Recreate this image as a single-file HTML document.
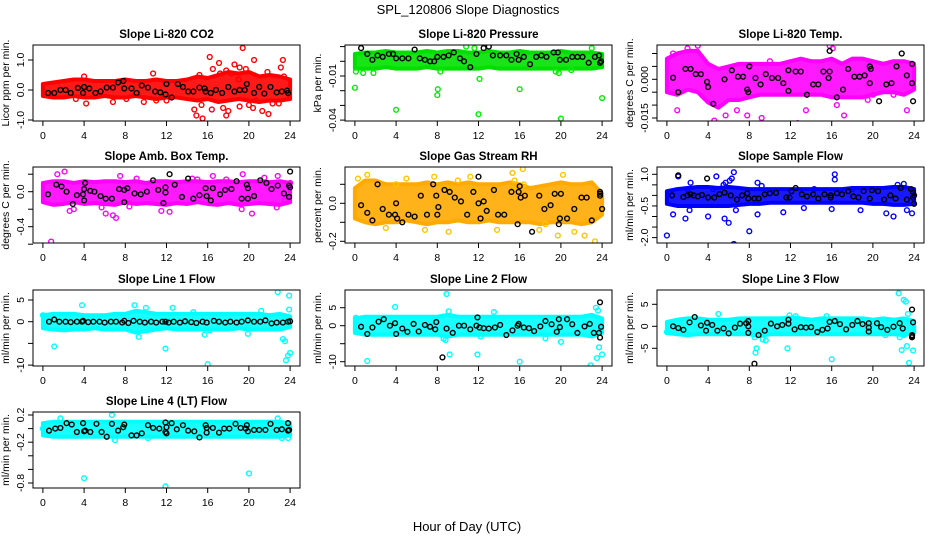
<!DOCTYPE html>
<html><head><meta charset="utf-8"><style>
html,body{margin:0;padding:0;background:#fff}
svg{display:block;font-family:"Liberation Sans",Arial,sans-serif}
</style></head><body>
<svg id="fig" width="936" height="540" viewBox="0 0 936 540" xmlns="http://www.w3.org/2000/svg">
<text x="468" y="14" text-anchor="middle" font-size="13">SPL_120806  Slope Diagnostics</text>
<text x="467" y="531" text-anchor="middle" font-size="13">Hour of Day (UTC)</text>
</svg>
<script>
const hours=[0,1,2,3,4,5,6,7,8,9,10,11,12,13,14,15,16,17,18,19,20,21,22,23,24];
const xTicks=[0,4,8,12,16,20,24];

const co2BandLo=[-0.2,-0.25,-0.25,-0.2,-0.25,-0.25,-0.2,-0.25,-0.25,-0.2,-0.25,-0.3,-0.25,-0.25,-0.3,-0.35,-0.3,-0.4,-0.35,-0.3,-0.35,-0.4,-0.35,-0.35,-0.3];
const co2BandHi=[0.2,0.25,0.3,0.35,0.35,0.3,0.3,0.3,0.35,0.3,0.3,0.35,0.3,0.3,0.35,0.45,0.4,0.5,0.6,0.55,0.6,0.45,0.5,0.45,0.35];
const co2Outliers=[[4,0.45],[4.2,-0.45],[3.2,-0.3],[6.8,-0.4],[8.1,-0.3],[9.8,-0.4],[10.7,0.55],[11,-0.35],[12,-0.35],[14.7,-0.65],[14.9,-0.85],[15.5,-0.95],[15.4,-0.5],[16.2,1.1],[16.4,-0.65],[17.1,0.9],[17.2,0.55],[17.5,-0.6],[17.8,-0.85],[18,-0.7],[18.3,0.55],[18.6,0.85],[19.1,0.75],[19.4,1.4],[19.1,-0.55],[19.7,0.7],[20,-0.5],[20.4,-0.6],[20.5,1.0],[20.7,-0.35],[21.3,-0.7],[21.8,0.6],[21.9,-0.8],[22.3,-0.45],[22.9,-0.45],[23.3,1.0],[23.1,0.75],[23.4,0.45],[23.9,-0.15],[17.8,0.65],[19,0.35],[15.2,0.5],[16.5,0.7]];
const co2Ref=[[0.5,-0.1],[1.1,-0.1],[1.7,0],[2.2,0],[2.7,-0.1],[3.4,0.07],[3.9,-0.1],[4,0.1],[4.5,0.05],[5.1,-0.1],[5.6,-0.05],[6.2,0.08],[6.8,0.08],[7.3,0.25],[7.8,0.3],[7.9,0.05],[8.6,0.05],[9.1,-0.1],[9.6,0.15],[10.2,0.08],[10.9,-0.05],[11.4,-0.08],[11.9,-0.15],[12,0.2],[12.5,-0.25],[13.1,0.2],[13.6,0.1],[14.1,-0.05],[14.6,-0.05],[15.2,0.08],[15.7,0.05],[15.8,-0.05],[16.3,-0.1],[16.8,0],[17.4,-0.1],[18,0.1],[18.6,-0.05],[19.1,0],[19.6,0],[19.8,0.2],[20.5,-0.1],[21,0.1],[21.5,-0.12],[22.1,0.1],[22.7,-0.08],[23.2,-0.05],[23.7,-0.02],[23.8,-0.1]];

const presBandLo=[-0.005,-0.005,-0.005,-0.004,-0.005,-0.005,-0.005,-0.004,-0.005,-0.005,-0.005,-0.005,-0.005,-0.004,-0.005,-0.005,-0.005,-0.005,-0.005,-0.005,-0.005,-0.005,-0.005,-0.005,-0.004];
const presBandHi=[0.005,0.006,0.006,0.007,0.006,0.006,0.006,0.007,0.006,0.007,0.007,0.006,0.006,0.007,0.006,0.006,0.007,0.006,0.006,0.006,0.007,0.006,0.006,0.006,0.005];
const presOutliers=[[0,-0.018],[0.1,-0.007],[0.8,-0.008],[1.8,-0.008],[4,-0.033],[8,-0.023],[8.05,-0.019],[8.3,-0.007],[12,-0.036],[12.1,-0.012],[16,-0.019],[20,-0.039],[19.8,-0.008],[24,-0.025],[10.8,0.01],[11.6,0.009],[23,0.009],[19.5,-0.007],[21,-0.006]];
const presRef=[[0.6,0.009],[1.2,0.005],[1.7,0.001],[2.2,0.004],[2.7,0.003],[3.3,0.005],[3.7,0.005],[4,0.002],[4.6,0.002],[5.2,0.002],[5.8,0.008],[6.3,0.002],[6.8,0.001],[7.3,0],[7.7,0],[8,0.003],[8.6,0.003],[9.1,0.004],[9.6,0.006],[10.2,0.002],[10.6,0],[11.2,-0.004],[11.8,0.005],[12.5,0.009],[13,0.01],[13.4,0.004],[14.1,0.004],[14.7,0.004],[15.2,0.001],[15.7,0.005],[15.9,0.001],[16.4,0.003],[17,-0.002],[17.6,0.003],[18.1,0.004],[18.6,0.003],[19.3,0.006],[19.7,0.006],[19.9,0.001],[20.5,0.001],[21.1,0.003],[21.6,0.003],[22.1,0.003],[22.7,-0.001],[23.3,0.003],[23.7,0.004],[23.8,-0.001],[23.9,0]];

const tempBandLo=[-0.005,-0.006,-0.004,-0.005,-0.009,-0.011,-0.008,-0.008,-0.007,-0.006,-0.006,-0.006,-0.006,-0.006,-0.006,-0.006,-0.007,-0.007,-0.007,-0.007,-0.006,-0.005,-0.005,-0.006,-0.004];
const tempBandHi=[0.008,0.01,0.011,0.011,0.006,0.004,0.005,0.006,0.006,0.006,0.006,0.006,0.007,0.008,0.007,0.007,0.008,0.006,0.008,0.008,0.007,0.006,0.007,0.007,0.006];
const tempOutliers=[[0.6,0.01],[1,-0.012],[2.5,0.015],[2,0.012],[4.1,-0.019],[4.6,-0.016],[5,-0.018],[5.7,-0.014],[6.8,-0.012],[7.8,-0.014],[9.2,-0.015],[12.7,-0.017],[13.5,-0.012],[15.8,0.013],[16.1,0.012],[17.2,-0.014],[19.5,-0.008],[20,-0.006],[22,-0.006],[23.3,-0.012],[16.5,-0.01],[10,0.007],[3,0.013]];
const tempRef=[[0.6,0.0006],[1.1,-0.005],[1.8,0.004],[2.3,0.004],[2.8,0.002],[3.3,0.002],[3.9,-0.001],[4,-0.003],[4.5,-0.0095],[5.1,-0.0185],[5.6,0],[6.3,0.0035],[6.9,0.001],[7.4,0.001],[7.8,-0.004],[7.9,-0.005],[8,0.005],[8.6,0.0005],[9.1,-0.002],[9.6,0.002],[10.2,0.0005],[10.8,0.0005],[11.3,-0.0015],[11.8,-0.0045],[11.8,0.0035],[12.5,0.003],[13,0.003],[13.6,-0.006],[14.2,-0.002],[14.7,-0.002],[15.2,0.003],[15.8,0.011],[15.7,0.0005],[15.8,0.003],[16.5,-0.007],[17.1,-0.004],[17.6,0.004],[18.2,0.001],[18.7,0.001],[19.2,0.0015],[19.7,0.005],[19.8,0.004],[19.7,-0.0015],[20.6,-0.0085],[21.3,-0.002],[21.8,-0.0015],[22.3,0.005],[22.8,0.01],[23.3,0.0015],[23.8,0.006],[23.8,-0.0015],[23.9,-0.0085]];

const ambBandLo=[-0.12,-0.15,-0.14,-0.12,-0.14,-0.13,-0.14,-0.15,-0.12,-0.14,-0.13,-0.14,-0.15,-0.13,-0.14,-0.12,-0.14,-0.15,-0.13,-0.15,-0.14,-0.13,-0.14,-0.15,-0.12];
const ambBandHi=[0.1,0.12,0.12,0.1,0.12,0.11,0.12,0.12,0.11,0.12,0.1,0.12,0.12,0.11,0.12,0.12,0.11,0.12,0.12,0.11,0.12,0.12,0.11,0.12,0.1];
const ambOutliers=[[0.8,-0.57],[1.4,0.2],[2.1,0.23],[2.6,-0.22],[3,-0.2],[5.7,-0.18],[6.1,-0.25],[6.8,-0.27],[7.1,-0.3],[7.5,0.18],[8.4,-0.17],[9.1,0.15],[11.5,-0.22],[12.3,-0.23],[14.5,0.15],[15,0.14],[16.5,0.18],[17.8,0.14],[19.3,-0.2],[19.4,0.2],[20.3,-0.25],[21.5,0.16],[22.8,0.18],[22.7,-0.18],[23.5,-0.1],[24,0.1]];
const ambRef=[[0.5,-0.03],[1.3,0.08],[1.8,0.06],[2.3,0],[2.9,-0.14],[3.3,-0.04],[3.9,-0.03],[4,0.03],[4,-0.1],[4.1,0.1],[4.6,0.01],[5,0],[5.6,-0.05],[6.1,-0.08],[6.7,-0.08],[7.4,0.03],[7.9,0.02],[7.9,-0.12],[8.2,0.04],[8.9,-0.02],[9.5,-0.03],[10.1,0],[10.7,0.13],[11.2,0.02],[11.7,-0.13],[11.9,0.05],[11.9,-0.01],[12.3,0.2],[12.8,0.08],[13.5,-0.06],[14.1,0.15],[14.6,-0.08],[15.2,-0.04],[15.8,0.04],[15.9,-0.05],[16.3,-0.1],[16.5,0.04],[17.2,-0.03],[17.7,0.02],[18.3,0.03],[18.8,0.12],[19.3,-0.08],[19.8,0.08],[19.9,0.04],[19.9,-0.08],[20.5,-0.05],[21.1,0.13],[21.7,0.1],[22.2,0.03],[22.8,0.07],[23.4,-0.02],[23.9,0.07],[23.9,-0.06],[24,0.23],[24,0.05]];

const rhBandLo=[-0.08,-0.1,-0.11,-0.1,-0.1,-0.09,-0.1,-0.11,-0.1,-0.1,-0.09,-0.1,-0.1,-0.09,-0.1,-0.1,-0.1,-0.1,-0.11,-0.1,-0.1,-0.1,-0.11,-0.1,-0.06];
const rhBandHi=[0.08,0.12,0.12,0.1,0.1,0.1,0.1,0.11,0.1,0.11,0.1,0.11,0.1,0.1,0.1,0.11,0.1,0.08,0.09,0.1,0.11,0.1,0.1,0.11,0.05];
const rhOutliers=[[0.3,0.13],[1.2,0.15],[3,-0.13],[5,0.13],[6.8,-0.14],[7.7,0.14],[9.1,-0.15],[10,0.12],[13.8,-0.14],[15.3,0.16],[15.5,0.12],[16.4,0.1],[17.9,-0.14],[19.7,-0.17],[20.2,0.15],[21.3,-0.15],[22.3,-0.17],[23.3,-0.2],[16.3,0.18],[18.5,-0.11],[4,0.1],[11.2,0.14]];
const rhRef=[[0.6,-0.01],[1.2,-0.05],[1.7,-0.09],[2.2,0.1],[2.7,-0.03],[3.3,-0.06],[3.9,-0.06],[4,0],[4.1,-0.08],[4.6,-0.1],[5.2,-0.06],[5.8,-0.07],[6.4,0.04],[7,-0.06],[7.6,0.1],[7.9,0.04],[8,-0.06],[8.1,-0.02],[8.7,0.07],[9.2,0.06],[9.7,0.03],[10.3,0.01],[10.9,-0.06],[11.5,0.06],[12,0],[12,0.14],[12.2,-0.08],[12.5,0.01],[12.8,-0.04],[13.5,0.07],[13.9,-0.06],[14.5,-0.06],[15.2,0.06],[15.8,-0.11],[15.9,0.06],[16,0.09],[16.1,0.03],[16.5,0.04],[17.2,-0.15],[17.9,0.04],[18.4,-0.03],[19,-0.01],[19.4,0.05],[19.8,-0.11],[19.9,-0.08],[20,0.05],[20.6,-0.08],[21.3,-0.03],[22,0.03],[22.5,0.03],[23,-0.09],[23.8,0.05],[23.8,0.04],[24,-0.03],[23.8,0.06]];

const flowBandLo=[-0.4,-0.5,-0.5,-0.5,-0.5,-0.5,-0.5,-0.45,-0.4,-0.4,-0.35,-0.35,-0.35,-0.35,-0.35,-0.35,-0.35,-0.35,-0.35,-0.35,-0.4,-0.4,-0.45,-0.45,-0.4];
const flowBandHi=[0.2,0.3,0.35,0.4,0.4,0.35,0.4,0.35,0.3,0.3,0.3,0.3,0.3,0.3,0.3,0.3,0.3,0.3,0.35,0.35,0.35,0.35,0.4,0.4,0.3];
const flowOutliers=[[0,-1.9],[0.6,-0.9],[1.1,0.9],[1.8,-1.1],[2.3,0.6],[2,0.3],[2.2,-0.7],[4,-1.0],[4.5,0.3],[4.8,0.9],[5.5,0.5],[5.7,0.6],[5.8,-2.45],[5.6,-1.1],[6,-1.3],[6.5,-2.3],[6.3,0.8],[6.7,-0.7],[6.5,1.1],[6.1,0.7],[8,-1.7],[8.8,0.6],[9.2,0.45],[8.8,-0.9],[11.3,-0.8],[16.3,1.0],[16.3,0.75],[16,-0.65],[18.8,-0.7],[21.3,-0.85],[22,-1.0],[22.4,0.5],[23.3,-0.7],[23.8,-0.85],[23,0.55],[13.3,-0.6],[18,0.3],[14.3,0.3]];
const flowRef=[[0.5,0],[1.1,0.95],[1.6,-0.08],[2,0],[2.3,0.05],[2.6,0],[3,-0.05],[3.4,0.02],[3.9,0.8],[4,-0.1],[4.6,-0.1],[5.1,0.06],[5.6,0.13],[6.2,0],[6.8,-0.2],[7.3,0],[7.8,0.1],[7.9,-0.15],[8.5,-0.15],[8.9,-0.15],[9.5,0.05],[10,0.1],[10.6,0.12],[11.6,-0.1],[11.9,-0.1],[12.1,0.2],[12.5,0.35],[13.1,0.05],[13.6,-0.05],[14.2,0.05],[14.7,-0.15],[15.3,0.05],[15.9,0],[15.9,-0.1],[16.5,0.1],[17,0.05],[17.6,0.2],[18.1,-0.05],[18.6,-0.1],[19.1,0.2],[19.7,-0.15],[19.9,0.25],[20.5,0.2],[21.1,-0.2],[21.7,0],[22.2,-0.15],[22.7,0.35],[23.3,-0.2],[23.7,0.3],[23.9,0.15],[23.9,-0.1],[24,-0.4],[24,0]];

const line1BandLo=[-1.5,-1.8,-2,-1.8,-1.8,-1.5,-1.8,-1.8,-1.8,-2.5,-2.2,-1.8,-1.5,-1.8,-1.8,-1.8,-1.8,-1.8,-1.8,-1.5,-1.8,-1.8,-1.8,-1.8,-1.2];
const line1BandHi=[1.5,1.8,1.8,1.8,1.5,1.5,1.5,1.8,1.8,2.5,2.2,1.8,1.8,1.8,1.8,1.8,1.8,1.8,1.8,1.8,1.8,1.8,1.5,1.8,1.2];
const line1Outliers=[[0,1.5],[1.1,-5.7],[3.8,3.8],[8.9,3.8],[9.3,-3.5],[10,3.2],[11.9,-6.2],[12.6,3.2],[15.7,-3],[16,-9.8],[16.2,-2],[19.9,-2.8],[22.8,6.8],[23.3,-4],[23.5,-4.5],[23.6,-8.9],[23.8,-7.8],[23.9,6],[24,-7.2],[23.9,2.8],[21.2,2.5],[14.6,2.2]];
const line1Ref=[[0.6,0],[1.1,0.5],[1.6,0],[2.2,0],[2.7,-0.1],[3.3,0],[3.8,0],[3.9,0.2],[4.4,-0.1],[4.9,0],[5.5,0],[6,-0.2],[6.6,0],[7.1,0],[7.7,-0.2],[7.9,0.2],[8.3,-0.3],[8.8,0.2],[9.4,0],[9.9,-0.2],[10.5,0],[11,-0.2],[11.6,0],[11.9,0],[12.2,-0.2],[12.7,0],[13.3,-0.2],[13.8,0.1],[14.4,-0.1],[14.9,-0.3],[15.5,0],[15.9,-0.2],[16.6,0.2],[17.1,0],[17.7,-0.2],[18.2,0],[18.8,-0.2],[19.3,0],[19.9,0.3],[20.5,0],[21.1,0],[21.6,0.3],[22.2,-0.4],[22.7,-0.2],[23.3,-0.2],[23.8,0],[24,0.1]];

const line2BandLo=[-2,-2.5,-2.5,-2.5,-2.5,-2.5,-2.5,-2.5,-2.5,-3,-2.5,-2.5,-2.5,-2.5,-2.5,-2.5,-2.5,-2.5,-2.5,-2.5,-2.5,-2.5,-2.5,-3,-2];
const line2BandHi=[2,2.5,2.5,2.5,2.5,2.5,2.5,2.5,2.5,3,2.5,2.5,2.5,2.5,2.5,2.5,2.5,2.5,2.5,2.5,2.5,2.5,2.5,3,2];
const line2Outliers=[[0.1,2.2],[1.2,-9.8],[3.9,5.2],[8.9,8.8],[8.8,-4],[9.1,4],[9.2,-8],[11.9,-8],[12.2,-3],[16,-10],[18.5,-3.5],[20,-4.5],[22.9,-11],[23.4,5],[23.5,-9],[23.7,-6],[24,-8],[23.6,4.2],[8.6,-3.6],[13.5,3.8]];
const line2Ref=[[0.6,-0.3],[1.2,-2.3],[1.7,-0.5],[2.3,1.1],[2.8,1.8],[3.4,0],[3.9,0.7],[4,-2.3],[4.6,-0.8],[5.1,-1.7],[5.7,0.5],[6.2,-1.6],[6.8,0.2],[7.3,-0.3],[7.8,-1],[7.9,1],[8.5,-8.8],[8.9,-0.8],[9.5,-2],[10.1,0],[10.6,0],[11.2,-1],[11.8,0],[11.9,2.3],[12.1,-0.5],[12.5,-0.7],[13,-0.8],[13.6,-0.5],[14.1,0.2],[14.7,-2.6],[15.3,-1.3],[15.8,0],[15.9,0.5],[16.4,-0.5],[16.9,-0.7],[17.4,-1.5],[18,-0.2],[18.5,1.3],[19.1,0.4],[19.6,-1.7],[19.8,1.8],[19.9,-0.4],[20.6,1.8],[21.1,0.4],[21.6,-2],[22.3,-0.2],[22.8,0.5],[23.2,-2],[23.8,6.5],[23.8,-3.3],[23.7,-2],[23.9,-0.3]];

const line3BandLo=[-1.5,-1.8,-2,-1.8,-1.8,-1.8,-1.8,-1.8,-1.8,-2.2,-1.8,-1.8,-1.8,-1.8,-1.8,-1.8,-1.8,-1.8,-1.8,-1.8,-1.8,-1.8,-1.8,-2,-1.5];
const line3BandHi=[1,1.5,1.8,1.8,1.5,1.5,1.5,1.8,1.8,1.8,1.8,1.8,2,1.8,1.5,1.8,1.8,1.8,1.8,1.8,1.5,1.8,1.5,1.8,1.2];
const line3Outliers=[[0,-1.3],[1,0],[2,-1.8],[5,2.8],[8.5,-2.5],[8.6,-6],[8.7,-5],[9.3,-3],[9.6,-3.2],[11.7,-5],[11.9,2.5],[15.5,2.3],[16,-7.5],[21.2,-2],[22.5,7.5],[23,6],[23.2,5.6],[22.6,-2.5],[22.8,-5.4],[23.3,-4.5],[23.5,-8.3],[23.9,-5.5],[23.4,2.8],[23,-2],[12.5,2.3]];
const line3Ref=[[0.6,0],[1.1,-0.4],[1.6,-0.8],[2.2,0.9],[2.7,2.1],[3.3,0.2],[3.8,-1],[3.9,0.8],[4.4,0.3],[4.9,-1],[5.5,-0.5],[6,-1.6],[6.6,-0.3],[7.1,0.6],[7.7,0.7],[7.9,-1.5],[7.9,1.2],[7.9,0],[8.5,-8.5],[8.9,-2],[9.5,-1],[10.1,0.6],[10.7,0],[11.2,0.3],[11.8,0.6],[11.8,1.5],[12.4,-0.7],[13,-0.2],[13.5,-0.3],[14,-0.2],[14.6,-1.3],[15.1,-0.8],[15.6,-0.5],[15.8,1],[16.3,1.2],[16.8,0.5],[17.4,-0.7],[18,0.3],[18.5,1.2],[19,0.5],[19.6,-1.2],[19.6,-0.3],[19.6,0.7],[20.4,0.7],[20.8,-0.2],[21.4,-0.8],[22,-0.1],[22.6,0.7],[22.9,-0.5],[23.8,3.8],[23.9,0.9],[23.8,-2],[23.8,-2.5],[23.8,-2.2]];

const line4BandLo=[-0.1,-0.12,-0.12,-0.12,-0.12,-0.12,-0.12,-0.12,-0.12,-0.12,-0.12,-0.12,-0.12,-0.12,-0.12,-0.12,-0.12,-0.12,-0.12,-0.12,-0.12,-0.12,-0.12,-0.12,-0.1];
const line4BandHi=[0.08,0.1,0.1,0.1,0.1,0.1,0.1,0.1,0.1,0.1,0.1,0.1,0.1,0.1,0.1,0.1,0.1,0.1,0.1,0.1,0.1,0.1,0.1,0.1,0.08];
const line4Outliers=[[1.7,0.15],[4,-0.73],[6.7,0.2],[7,-0.17],[11.9,-0.85],[20,-0.66],[22.8,0.15],[23.2,-0.14],[23.8,-0.14],[10.2,-0.14],[0,0]];
const line4Ref=[[0.6,-0.03],[1.2,0],[1.7,0.01],[2.3,0.08],[2.8,0.06],[3.3,-0.05],[3.9,0.08],[4,-0.04],[4.1,-0.03],[4.6,-0.05],[5.2,0.07],[5.7,-0.05],[6.2,-0.12],[6.7,0.07],[7.3,-0.03],[7.8,0.02],[7.9,0.06],[8.6,-0.1],[9.1,-0.1],[9.6,-0.07],[10.2,0.05],[10.7,0.01],[11.3,0],[11.9,0.09],[11.9,-0.05],[12,-0.07],[12,0.02],[12.5,0.08],[13,-0.01],[13.6,0.05],[14.1,-0.03],[14.7,-0.04],[15.2,-0.13],[15.8,0.05],[15.9,-0.06],[15.9,0.01],[16.5,0.01],[17.1,-0.06],[17.6,0],[18.1,0],[18.7,0.07],[19.2,0.01],[19.7,0],[19.8,0.05],[19.9,-0.04],[20.5,-0.02],[21,-0.02],[21.6,-0.02],[22.1,0.07],[22.7,-0.02],[23.2,-0.01],[23.8,0.08],[23.8,-0.03],[23.9,-0.02]];

const co2TickVals=[-1,0,1], co2TickLabels=["-1.0","0.0","1.0"];
const presTickVals=[0.01,0,-0.01,-0.02,-0.03,-0.04], presTickLabels=["","","-0.01","","","-0.04"];
const tempTickVals=[0.01,0.005,0,-0.005,-0.01,-0.015], tempTickLabels=["","","0.000","","","-0.015"];
const ambTickVals=[0.2,0,-0.2,-0.4,-0.6], ambTickLabels=["","0.0","","-0.4",""];
const rhTickVals=[0.1,0,-0.1,-0.2], rhTickLabels=["","0.0","","-0.2"];
const flowTickVals=[1,0.5,0,-0.5,-1,-1.5,-2], flowTickLabels=["1.0","","","-0.5","","","-2.0"];
const line1TickVals=[5,0,-5,-10], line1TickLabels=["5","0","","-10"];
const line2TickVals=[5,0,-5,-10], line2TickLabels=["5","0","","-10"];
const line3TickVals=[5,0,-5], line3TickLabels=["5","0","-5"];
const line4TickVals=[0.2,0,-0.2,-0.4,-0.6,-0.8], line4TickLabels=["0.2","","-0.2","","","-0.8"];

const NS="http://www.w3.org/2000/svg";
const svg=document.getElementById('fig');
function mk(tag,attrs,parent){const e=document.createElementNS(NS,tag);for(const k in attrs)e.setAttribute(k,attrs[k]);(parent||svg).appendChild(e);return e;}

const panels=[
 {key:'co2',title:'Slope Li-820 CO2',ylab:'Licor ppm per min.',col:0,row:0,p0:90,k:30,color:'#ff0000',band:'#ff0000',lo:co2BandLo,hi:co2BandHi,out:co2Outliers,ref:co2Ref,tv:co2TickVals,tl:co2TickLabels},
 {key:'pressure',title:'Slope Li-820 Pressure',ylab:'kPa per min.',col:1,row:0,p0:61.3,k:1470,color:'#00ee00',band:'#00e000',lo:presBandLo,hi:presBandHi,out:presOutliers,ref:presRef,tv:presTickVals,tl:presTickLabels},
 {key:'temp',title:'Slope Li-820 Temp.',ylab:'degrees C per min.',col:2,row:0,p0:79.3,k:2580,color:'#ff00ff',band:'#ff00ff',lo:tempBandLo,hi:tempBandHi,out:tempOutliers,ref:tempRef,tv:tempTickVals,tl:tempTickLabels},
 {key:'ambbox',title:'Slope Amb. Box Temp.',ylab:'degrees C per min.',col:0,row:1,p0:191.7,k:87.5,color:'#ff00ff',band:'#ff00ff',lo:ambBandLo,hi:ambBandHi,out:ambOutliers,ref:ambRef,tv:ambTickVals,tl:ambTickLabels},
 {key:'rh',title:'Slope Gas Stream RH',ylab:'percent per min.',col:1,row:1,p0:203.3,k:190,color:'#ffc400',band:'#ffaa00',lo:rhBandLo,hi:rhBandHi,out:rhOutliers,ref:rhRef,tv:rhTickVals,tl:rhTickLabels},
 {key:'sampleflow',title:'Slope Sample Flow',ylab:'ml/min per min.',col:2,row:1,p0:195.4,k:21.1,color:'#0000ff',band:'#0000ff',lo:flowBandLo,hi:flowBandHi,out:flowOutliers,ref:flowRef,tv:flowTickVals,tl:flowTickLabels},
 {key:'line1',title:'Slope Line 1 Flow',ylab:'ml/min per min.',col:0,row:2,p0:321.7,k:4.34,color:'#00ffff',band:'#00ffff',lo:line1BandLo,hi:line1BandHi,out:line1Outliers,ref:line1Ref,tv:line1TickVals,tl:line1TickLabels},
 {key:'line2',title:'Slope Line 2 Flow',ylab:'ml/min per min.',col:1,row:2,p0:325.7,k:3.6,color:'#00ffff',band:'#00ffff',lo:line2BandLo,hi:line2BandHi,out:line2Outliers,ref:line2Ref,tv:line2TickVals,tl:line2TickLabels},
 {key:'line3',title:'Slope Line 3 Flow',ylab:'ml/min per min.',col:2,row:2,p0:326.3,k:4.4,color:'#00ffff',band:'#00ffff',lo:line3BandLo,hi:line3BandHi,out:line3Outliers,ref:line3Ref,tv:line3TickVals,tl:line3TickLabels},
 {key:'line4',title:'Slope Line 4 (LT) Flow',ylab:'ml/min per min.',col:0,row:3,p0:428.6,k:68,color:'#00ffff',band:'#00ffff',lo:line4BandLo,hi:line4BandHi,out:line4Outliers,ref:line4Ref,tv:line4TickVals,tl:line4TickLabels}
];
const rowTops=[45,167,290,412], boxH=76, boxW=267, colLefts=[33,345,657];

panels.forEach(p=>{
  const L=colLefts[p.col], T=rowTops[p.row], B=T+boxH, R=L+boxW;
  const xs=h=>L+9.9+h*(boxW-19.8)/24;
  const ys=v=>p.p0-p.k*v;
  const g=mk('g',{});
  
  
  const clipId='clip-'+p.key;
  const cp=mk('clipPath',{id:clipId},g); mk('rect',{x:L,y:T,width:boxW,height:boxH},cp);
  const t=mk('text',{x:(L+R)/2,y:T-7,'text-anchor':'middle','font-size':11.5,'font-weight':'bold'},g); t.textContent=p.title;
  
  
  const yl=mk('text',{transform:`translate(${L-24},${(T+B)/2}) rotate(-90)`,'text-anchor':'middle','font-size':10.5},g); yl.textContent=p.ylab;
  
  
  const plot=mk('g',{'clip-path':`url(#${clipId})`},g);
  
  
  let pts=hours.map((h,i)=>xs(h)+','+ys(p.hi[i]));
  for(let i=hours.length-1;i>=0;i--) pts.push(xs(hours[i])+','+ys(p.lo[i]));
  const band=mk('polygon',{points:pts.join(' '),fill:p.band,'fill-opacity':0.9,stroke:p.band,'stroke-width':4,'stroke-linejoin':'round'},plot);
  
  
  p.out.forEach(d=>{
    const c=mk('circle',{cx:xs(d[0]),cy:ys(d[1]),r:2.4,fill:'none',stroke:p.color,'stroke-width':1.4},plot);
    
    
  });
  p.ref.forEach(d=>{
    const c=mk('circle',{cx:xs(d[0]),cy:ys(d[1]),r:2.4,fill:'none',stroke:'#000','stroke-width':1.4},plot);
    
    
  });
  mk('rect',{x:L,y:T,width:boxW,height:boxH,fill:'none',stroke:'#000','stroke-width':1},g);
  xTicks.forEach(h=>{
    mk('line',{x1:xs(h),x2:xs(h),y1:B,y2:B+5,stroke:'#000'},g);
    const tx=mk('text',{x:xs(h),y:B+18,'text-anchor':'middle','font-size':10.5},g); tx.textContent=h;
    
    
  });
  p.tv.forEach((v,i)=>{
    mk('line',{x1:L-5,x2:L,y1:ys(v),y2:ys(v),stroke:'#000'},g);
    if(p.tl[i]){
      const ty=mk('text',{transform:`translate(${L-12},${ys(v)}) rotate(-90)`,'text-anchor':'middle','dominant-baseline':'middle','font-size':10.5},g); ty.textContent=p.tl[i];
      
      
    }
  });
});
</script>
</body></html>
